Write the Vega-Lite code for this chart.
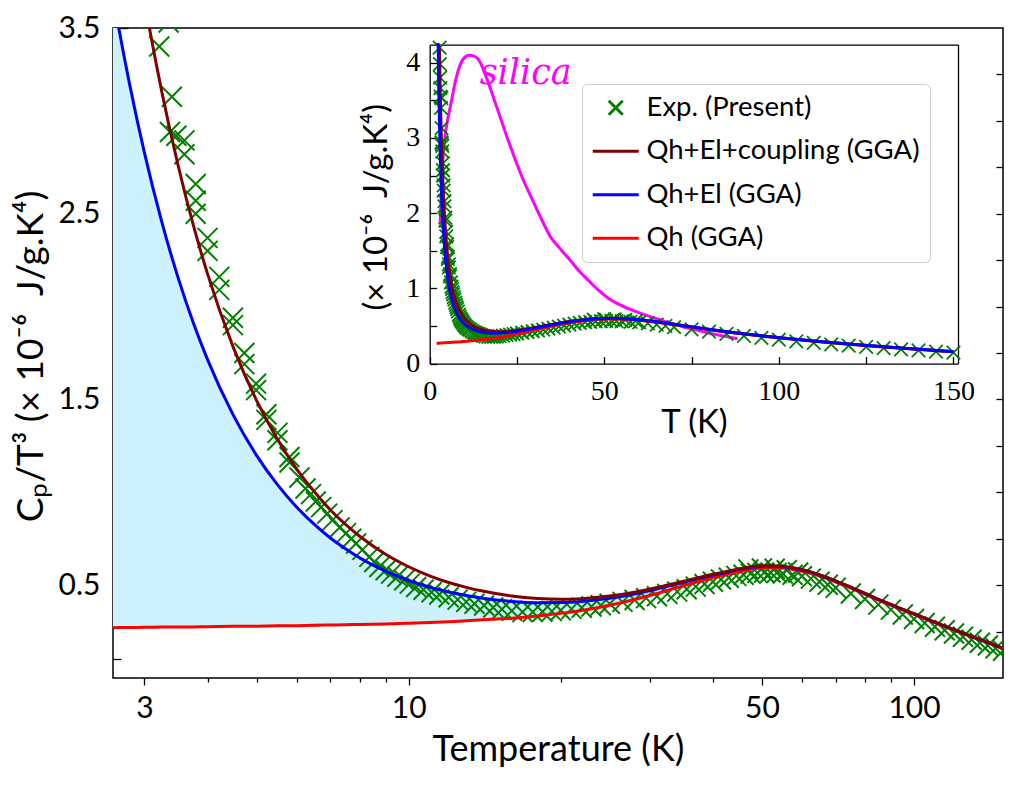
{
  "$schema": "https://vega.github.io/schema/vega-lite/v6.json",
  "width": 890,
  "height": 650,
  "autosize": {"type": "none"},
  "padding": {"left": 113, "top": 28, "right": 16, "bottom": 107},
  "background": "white",
  "config": {
    "view": {"stroke": "black", "strokeWidth": 1.5},
    "axis": {"domain": false, "grid": false, "tickColor": "black", "tickWidth": 1.3, "labelColor": "black", "titleColor": "black", "labelFont": "Lato", "titleFont": "Lato", "labelOverlap": false, "labelFlush": false, "titleFontWeight": "normal"},
    "legend": {"labelColor": "black"}
  },
  "datasets": {
    "curves": [
      {"T": 2.0, "red": 0.268, "blue": 6.018, "brown": 7.868},
      {"T": 2.2, "red": 0.269, "blue": 5.021, "brown": 6.55},
      {"T": 2.4, "red": 0.27, "blue": 4.263, "brown": 5.548},
      {"T": 2.6, "red": 0.271, "blue": 3.673, "brown": 4.768},
      {"T": 2.8, "red": 0.272, "blue": 3.206, "brown": 4.15},
      {"T": 3.0, "red": 0.273, "blue": 2.829, "brown": 3.651},
      {"T": 3.25, "red": 0.274, "blue": 2.452, "brown": 3.152},
      {"T": 3.5, "red": 0.275, "blue": 2.153, "brown": 2.757},
      {"T": 3.75, "red": 0.275, "blue": 1.911, "brown": 2.437},
      {"T": 4.0, "red": 0.276, "blue": 1.714, "brown": 2.176},
      {"T": 4.5, "red": 0.278, "blue": 1.414, "brown": 1.779},
      {"T": 5.0, "red": 0.279, "blue": 1.199, "brown": 1.495},
      {"T": 5.5, "red": 0.281, "blue": 1.041, "brown": 1.286},
      {"T": 6.0, "red": 0.282, "blue": 0.921, "brown": 1.126},
      {"T": 6.5, "red": 0.284, "blue": 0.828, "brown": 1.004},
      {"T": 7.0, "red": 0.285, "blue": 0.754, "brown": 0.905},
      {"T": 7.5, "red": 0.287, "blue": 0.696, "brown": 0.827},
      {"T": 8.0, "red": 0.288, "blue": 0.647, "brown": 0.763},
      {"T": 9.0, "red": 0.291, "blue": 0.575, "brown": 0.666},
      {"T": 10, "red": 0.295, "blue": 0.525, "brown": 0.599},
      {"T": 11, "red": 0.299, "blue": 0.489, "brown": 0.55},
      {"T": 12, "red": 0.303, "blue": 0.463, "brown": 0.514},
      {"T": 13, "red": 0.308, "blue": 0.444, "brown": 0.488},
      {"T": 14, "red": 0.313, "blue": 0.43, "brown": 0.468},
      {"T": 16, "red": 0.322, "blue": 0.412, "brown": 0.441},
      {"T": 18, "red": 0.334, "blue": 0.405, "brown": 0.428},
      {"T": 20, "red": 0.348, "blue": 0.406, "brown": 0.424},
      {"T": 22, "red": 0.364, "blue": 0.412, "brown": 0.427},
      {"T": 25, "red": 0.392, "blue": 0.429, "brown": 0.441},
      {"T": 28, "red": 0.423, "blue": 0.452, "brown": 0.462},
      {"T": 31, "red": 0.455, "blue": 0.479, "brown": 0.487},
      {"T": 34, "red": 0.487, "blue": 0.507, "brown": 0.513},
      {"T": 37, "red": 0.515, "blue": 0.532, "brown": 0.537},
      {"T": 40, "red": 0.54, "blue": 0.554, "brown": 0.559},
      {"T": 43, "red": 0.56, "blue": 0.572, "brown": 0.576},
      {"T": 46, "red": 0.578, "blue": 0.589, "brown": 0.592},
      {"T": 50, "red": 0.592, "blue": 0.601, "brown": 0.604},
      {"T": 54, "red": 0.593, "blue": 0.601, "brown": 0.603},
      {"T": 58, "red": 0.583, "blue": 0.59, "brown": 0.592},
      {"T": 62, "red": 0.566, "blue": 0.572, "brown": 0.574},
      {"T": 66, "red": 0.543, "blue": 0.548, "brown": 0.55},
      {"T": 70, "red": 0.517, "blue": 0.522, "brown": 0.523},
      {"T": 75, "red": 0.484, "blue": 0.488, "brown": 0.489},
      {"T": 80, "red": 0.451, "blue": 0.455, "brown": 0.456},
      {"T": 85, "red": 0.42, "blue": 0.423, "brown": 0.424},
      {"T": 90, "red": 0.392, "blue": 0.395, "brown": 0.396},
      {"T": 95, "red": 0.366, "blue": 0.369, "brown": 0.369},
      {"T": 100, "red": 0.343, "blue": 0.345, "brown": 0.346},
      {"T": 110, "red": 0.298, "blue": 0.3, "brown": 0.301},
      {"T": 120, "red": 0.258, "blue": 0.26, "brown": 0.26},
      {"T": 130, "red": 0.222, "blue": 0.223, "brown": 0.224},
      {"T": 140, "red": 0.19, "blue": 0.191, "brown": 0.192},
      {"T": 150, "red": 0.158, "blue": 0.159, "brown": 0.159}
    ],
    "exp": [
      {"T": 2.85, "v": 4.2}, {"T": 2.92, "v": 3.98}, {"T": 2.98, "v": 3.8}, {"T": 3.05, "v": 3.66},
      {"T": 3.12, "v": 3.55}, {"T": 3.21, "v": 3.4}, {"T": 3.35, "v": 3.53}, {"T": 3.4, "v": 3.13},
      {"T": 3.37, "v": 2.94}, {"T": 3.47, "v": 2.92}, {"T": 3.6, "v": 2.895}, {"T": 3.6, "v": 2.82},
      {"T": 3.79, "v": 2.66}, {"T": 3.79, "v": 2.57}, {"T": 3.79, "v": 2.5}, {"T": 4.0, "v": 2.37},
      {"T": 4.0, "v": 2.3}, {"T": 4.22, "v": 2.16}, {"T": 4.22, "v": 2.09}, {"T": 4.49, "v": 1.94},
      {"T": 4.49, "v": 1.9}, {"T": 4.73, "v": 1.75}, {"T": 4.73, "v": 1.69}, {"T": 4.99, "v": 1.585},
      {"T": 4.99, "v": 1.55}, {"T": 5.23, "v": 1.42}, {"T": 5.23, "v": 1.39}, {"T": 5.5, "v": 1.32},
      {"T": 5.5, "v": 1.28}, {"T": 5.81, "v": 1.19}, {"T": 5.81, "v": 1.16}, {"T": 6.08, "v": 1.08},
      {"T": 6.25, "v": 1.02}, {"T": 6.41, "v": 0.99}, {"T": 6.55, "v": 0.95}, {"T": 6.71, "v": 0.92},
      {"T": 6.9, "v": 0.885}, {"T": 7.07, "v": 0.85}, {"T": 7.3, "v": 0.81}, {"T": 7.52, "v": 0.78},
      {"T": 7.7, "v": 0.75}, {"T": 7.87, "v": 0.724}, {"T": 8.1, "v": 0.69}, {"T": 8.36, "v": 0.652},
      {"T": 8.55, "v": 0.625}, {"T": 8.75, "v": 0.598}, {"T": 9.0, "v": 0.58}, {"T": 9.23, "v": 0.562},
      {"T": 9.5, "v": 0.545}, {"T": 9.8, "v": 0.526}, {"T": 10.05, "v": 0.508}, {"T": 10.35, "v": 0.49},
      {"T": 10.7, "v": 0.475}, {"T": 11.1, "v": 0.462}, {"T": 11.5, "v": 0.45}, {"T": 12.0, "v": 0.435},
      {"T": 12.5, "v": 0.422}, {"T": 13.0, "v": 0.41}, {"T": 13.5, "v": 0.4}, {"T": 14.1, "v": 0.39},
      {"T": 14.7, "v": 0.38}, {"T": 15.3, "v": 0.37}, {"T": 16.0, "v": 0.362}, {"T": 16.8, "v": 0.355},
      {"T": 17.6, "v": 0.355}, {"T": 18.4, "v": 0.357}, {"T": 19.2, "v": 0.36}, {"T": 20, "v": 0.365},
      {"T": 21, "v": 0.372}, {"T": 22, "v": 0.378}, {"T": 23, "v": 0.385}, {"T": 24, "v": 0.392},
      {"T": 25, "v": 0.4}, {"T": 26.5, "v": 0.41}, {"T": 28, "v": 0.42}, {"T": 29.5, "v": 0.43},
      {"T": 31, "v": 0.44}, {"T": 32.5, "v": 0.453}, {"T": 34, "v": 0.465}, {"T": 35.5, "v": 0.478},
      {"T": 37, "v": 0.492}, {"T": 38.5, "v": 0.506}, {"T": 40, "v": 0.518}, {"T": 41.5, "v": 0.53},
      {"T": 43, "v": 0.54}, {"T": 44.5, "v": 0.55}, {"T": 46, "v": 0.556}, {"T": 47.5, "v": 0.562},
      {"T": 49, "v": 0.566}, {"T": 50.5, "v": 0.568}, {"T": 52, "v": 0.568}, {"T": 53.5, "v": 0.566},
      {"T": 55, "v": 0.563}, {"T": 57.5, "v": 0.556}, {"T": 60, "v": 0.548}, {"T": 47, "v": 0.585},
      {"T": 50, "v": 0.59}, {"T": 53, "v": 0.588}, {"T": 56, "v": 0.58}, {"T": 59, "v": 0.568},
      {"T": 62.5, "v": 0.535}, {"T": 65, "v": 0.518}, {"T": 67.5, "v": 0.502}, {"T": 70, "v": 0.486},
      {"T": 75, "v": 0.455}, {"T": 80, "v": 0.425}, {"T": 85, "v": 0.395}, {"T": 90, "v": 0.368},
      {"T": 95, "v": 0.342}, {"T": 100, "v": 0.318}, {"T": 105, "v": 0.296}, {"T": 110, "v": 0.276},
      {"T": 115, "v": 0.257}, {"T": 120, "v": 0.24}, {"T": 125, "v": 0.222}, {"T": 130, "v": 0.206},
      {"T": 135, "v": 0.19}, {"T": 140, "v": 0.175}, {"T": 145, "v": 0.16}, {"T": 150, "v": 0.147}
    ],
    "silica": [
      {"T": 3.0, "v": 1.86}, {"T": 3.4, "v": 2.35}, {"T": 3.9, "v": 2.79}, {"T": 4.8, "v": 3.15},
      {"T": 6.1, "v": 3.46}, {"T": 7.5, "v": 3.78}, {"T": 8.9, "v": 3.99}, {"T": 10.0, "v": 4.07},
      {"T": 11.2, "v": 4.1}, {"T": 12.5, "v": 4.09}, {"T": 14.0, "v": 4.04}, {"T": 15.2, "v": 3.93},
      {"T": 16.2, "v": 3.81}, {"T": 17.8, "v": 3.6}, {"T": 19.5, "v": 3.37}, {"T": 22, "v": 3.03},
      {"T": 24.6, "v": 2.7}, {"T": 27, "v": 2.42}, {"T": 29, "v": 2.22}, {"T": 31.5, "v": 1.97},
      {"T": 34.6, "v": 1.685}, {"T": 37.5, "v": 1.52}, {"T": 40.2, "v": 1.375}, {"T": 43, "v": 1.22},
      {"T": 45.8, "v": 1.09}, {"T": 48.5, "v": 0.97}, {"T": 51.3, "v": 0.865}, {"T": 54.5, "v": 0.78},
      {"T": 58, "v": 0.71}, {"T": 61.5, "v": 0.65}, {"T": 64.7, "v": 0.6}, {"T": 68.5, "v": 0.545},
      {"T": 72.5, "v": 0.49}, {"T": 76.5, "v": 0.445}, {"T": 80.4, "v": 0.4}, {"T": 84.3, "v": 0.365},
      {"T": 88.2, "v": 0.33}
    ],
    "ann": [{"T": 14.3, "v": 3.72, "text": "silica"}]
  },
  "layer": [
    {
      "layer": [
        {
          "data": {"name": "curves"},
          "mark": {"type": "area", "color": "#cdf1fd", "clip": true, "interpolate": "monotone"},
          "encoding": {
            "x": {"field": "T", "type": "quantitative",
              "scale": {"type": "log", "domain": [2.6, 150], "nice": false},
              "axis": {"orient": "bottom", "values": [3, 4, 5, 6, 7, 8, 9, 10, 20, 30, 40, 50, 60, 70, 80, 90, 100],
                "labelExpr": "indexof([3,10,50,100], datum.value) >= 0 ? format(datum.value, 'd') : ''",
                "tickSize": {"condition": {"test": "indexof([3,10,50,100], datum.value) >= 0", "value": 7}, "value": 4},
                "labelPadding": 8, "labelFontSize": 30,
                "title": "Temperature (K)", "titleFontSize": 36, "titleX": 445, "titleY": 82,
                "titleBaseline": "alphabetic", "titleAlign": "center"}},
            "y": {"field": "blue", "type": "quantitative",
              "scale": {"domain": [0, 3.5], "nice": false, "zero": false},
              "axis": {"orient": "left", "values": [0.1, 0.3, 0.5, 0.7, 0.9, 1.1, 1.3, 1.5, 1.7, 1.9, 2.1, 2.3, 2.5, 2.7, 2.9, 3.1, 3.3, 3.5],
                "labelExpr": "indexof([0.5,1.5,2.5,3.5], datum.value) >= 0 ? format(datum.value, '.1f') : ''",
                "tickSize": {"condition": {"test": "indexof([0.5,1.5,2.5,3.5], datum.value) >= 0", "value": -15}, "value": -8},
                "labelPadding": 28, "labelFontSize": 30,
                "title": "Cₚ/T³\u00a0(×\u00a010⁻⁶\u00a0\u00a0J/g.K⁴)", "titleFontSize": 37, "titleX": -71, "titleY": 328,
                "titleAngle": -90, "titleBaseline": "alphabetic", "titleAlign": "center"}},
            "y2": {"field": "red"}
          }
        },
        {
          "data": {"name": "exp"},
          "mark": {"type": "point", "size": 816, "strokeWidth": 2, "filled": false, "opacity": 1, "clip": true},
          "encoding": {
            "x": {"field": "T", "type": "quantitative"},
            "y": {"field": "v", "type": "quantitative", "axis": null},
            "shape": {"datum": "Exp. (Present)", "type": "nominal",
              "scale": {"domain": ["Exp. (Present)", "Qh+El+coupling (GGA)", "Qh+El (GGA)", "Qh (GGA)"],
                "range": ["M-0.7,-0.7L0.7,0.7M-0.7,0.7L0.7,-0.7", "M-2.3,0L2.3,0", "M-2.3,0L2.3,0", "M-2.3,0L2.3,0"]}},
            "color": {"datum": "Exp. (Present)", "type": "nominal",
              "scale": {"domain": ["Exp. (Present)", "Qh+El+coupling (GGA)", "Qh+El (GGA)", "Qh (GGA)"], "range": ["#008000", "#800000", "#0000ff", "#ff0000"]},
              "legend": {"orient": "none", "legendX": 469, "legendY": 56, "title": null,
                "labelFont": "Lato", "labelFontSize": 27.5, "labelOffset": 17, "labelLimit": 600,
                "symbolType": "M-2.3,0L2.3,0", "symbolSize": 400, "symbolStrokeWidth": 3, "symbolOffset": 10,
                "symbolFillColor": "transparent",
                "padding": 10, "rowPadding": 14.5,
                "fillColor": "rgba(255,255,255,0.85)", "strokeColor": "#cccccc", "cornerRadius": 5}}
          }
        },
        {
          "data": {"name": "curves"},
          "mark": {"type": "line", "strokeWidth": 3, "clip": true, "interpolate": "monotone"},
          "encoding": {
            "x": {"field": "T", "type": "quantitative"},
            "y": {"field": "red", "type": "quantitative", "axis": null},
            "color": {"datum": "Qh (GGA)", "type": "nominal"}
          }
        },
        {
          "data": {"name": "curves"},
          "mark": {"type": "line", "strokeWidth": 3, "clip": true, "interpolate": "monotone"},
          "encoding": {
            "x": {"field": "T", "type": "quantitative"},
            "y": {"field": "blue", "type": "quantitative", "axis": null},
            "color": {"datum": "Qh+El (GGA)", "type": "nominal"}
          }
        },
        {
          "data": {"name": "curves"},
          "mark": {"type": "line", "strokeWidth": 3, "clip": true, "interpolate": "monotone"},
          "encoding": {
            "x": {"field": "T", "type": "quantitative"},
            "y": {"field": "brown", "type": "quantitative",
              "axis": {"orient": "right", "values": [0.25, 0.5, 0.75, 1, 1.25, 1.5, 1.75, 2, 2.25, 2.5, 2.75, 3, 3.25],
                "labels": false, "tickSize": -7, "title": null, "domain": false}},
            "color": {"datum": "Qh+El+coupling (GGA)", "type": "nominal"}
          }
        }
      ],
      "resolve": {"axis": {"y": "independent"}}
    },
    {
      "layer": [
        {
          "data": {"name": "silica"},
          "mark": {"type": "line", "strokeWidth": 3, "color": "#ff00ff", "interpolate": "monotone"},
          "encoding": {
            "x": {"field": "T", "type": "quantitative",
              "scale": {"domain": [0, 151.3], "range": [316.7, 845], "nice": false, "zero": false},
              "axis": {"orient": "bottom", "offset": -314.4, "values": [0, 25, 50, 75, 100, 125, 150],
                "labelExpr": "datum.value % 50 == 0 ? format(datum.value, 'd') : ''",
                "tickSize": -7, "labelPadding": 21, "labelFont": "Liberation Serif", "labelFontSize": 28,
                "domain": true, "domainColor": "black", "domainWidth": 1.3,
                "title": "T\u00a0(K)", "titleFontSize": 33, "titleX": 580.9, "titleY": 68.7,
                "titleBaseline": "alphabetic", "titleAlign": "center"}},
            "y": {"field": "v", "type": "quantitative",
              "scale": {"domain": [0, 4.24], "range": [335.6, 16.6], "nice": false, "zero": false, "clamp": true},
              "axis": {"orient": "left", "offset": -316.7, "values": [0, 0.5, 1, 1.5, 2, 2.5, 3, 3.5, 4],
                "labelExpr": "datum.value % 1 == 0 ? format(datum.value, 'd') : ''",
                "tickSize": -7, "labelPadding": 17, "labelFont": "Liberation Serif", "labelFontSize": 28,
                "domain": true, "domainColor": "black", "domainWidth": 1.3,
                "title": "(×\u00a010⁻⁶\u00a0\u00a0J/g.K⁴)", "titleFontSize": 33, "titleX": -43, "titleY": 178.8,
                "titleAngle": -90, "titleBaseline": "alphabetic", "titleAlign": "center"}}
          }
        },
        {
          "data": {"name": "exp"},
          "mark": {"type": "point", "size": 372, "strokeWidth": 1.8, "filled": false, "opacity": 1},
          "encoding": {
            "x": {"field": "T", "type": "quantitative", "axis": null},
            "y": {"field": "v", "type": "quantitative", "axis": null},
            "shape": {"datum": "Exp. (Present)", "type": "nominal"},
            "color": {"datum": "Exp. (Present)", "type": "nominal"}
          }
        },
        {
          "data": {"name": "curves"},
          "mark": {"type": "line", "strokeWidth": 3, "interpolate": "monotone"},
          "encoding": {
            "x": {"field": "T", "type": "quantitative", "axis": null},
            "y": {"field": "red", "type": "quantitative", "axis": null},
            "color": {"datum": "Qh (GGA)", "type": "nominal"}
          }
        },
        {
          "data": {"name": "curves"},
          "mark": {"type": "line", "strokeWidth": 3, "interpolate": "monotone"},
          "encoding": {
            "x": {"field": "T", "type": "quantitative", "axis": null},
            "y": {"field": "brown", "type": "quantitative", "axis": null},
            "color": {"datum": "Qh+El+coupling (GGA)", "type": "nominal"}
          }
        },
        {
          "data": {"name": "curves"},
          "mark": {"type": "line", "strokeWidth": 3, "interpolate": "monotone"},
          "encoding": {
            "x": {"field": "T", "type": "quantitative",
              "axis": {"orient": "top", "offset": -16.6, "ticks": false, "labels": false, "domain": true, "domainColor": "black", "domainWidth": 1.3, "title": null}},
            "y": {"field": "blue", "type": "quantitative",
              "axis": {"orient": "right", "offset": -45, "ticks": false, "labels": false, "domain": true, "domainColor": "black", "domainWidth": 1.3, "title": null}},
            "color": {"datum": "Qh+El (GGA)", "type": "nominal"}
          }
        },
        {
          "data": {"name": "ann"},
          "mark": {"type": "text", "font": "DejaVu Serif", "fontStyle": "italic", "fontSize": 35, "color": "#ff00ff", "align": "left", "baseline": "alphabetic"},
          "encoding": {
            "x": {"field": "T", "type": "quantitative", "axis": null},
            "y": {"field": "v", "type": "quantitative", "axis": null},
            "text": {"field": "text"}
          }
        }
      ],
      "resolve": {"axis": {"x": "independent", "y": "independent"}}
    }
  ],
  "resolve": {"scale": {"x": "independent", "y": "independent"}}
}
